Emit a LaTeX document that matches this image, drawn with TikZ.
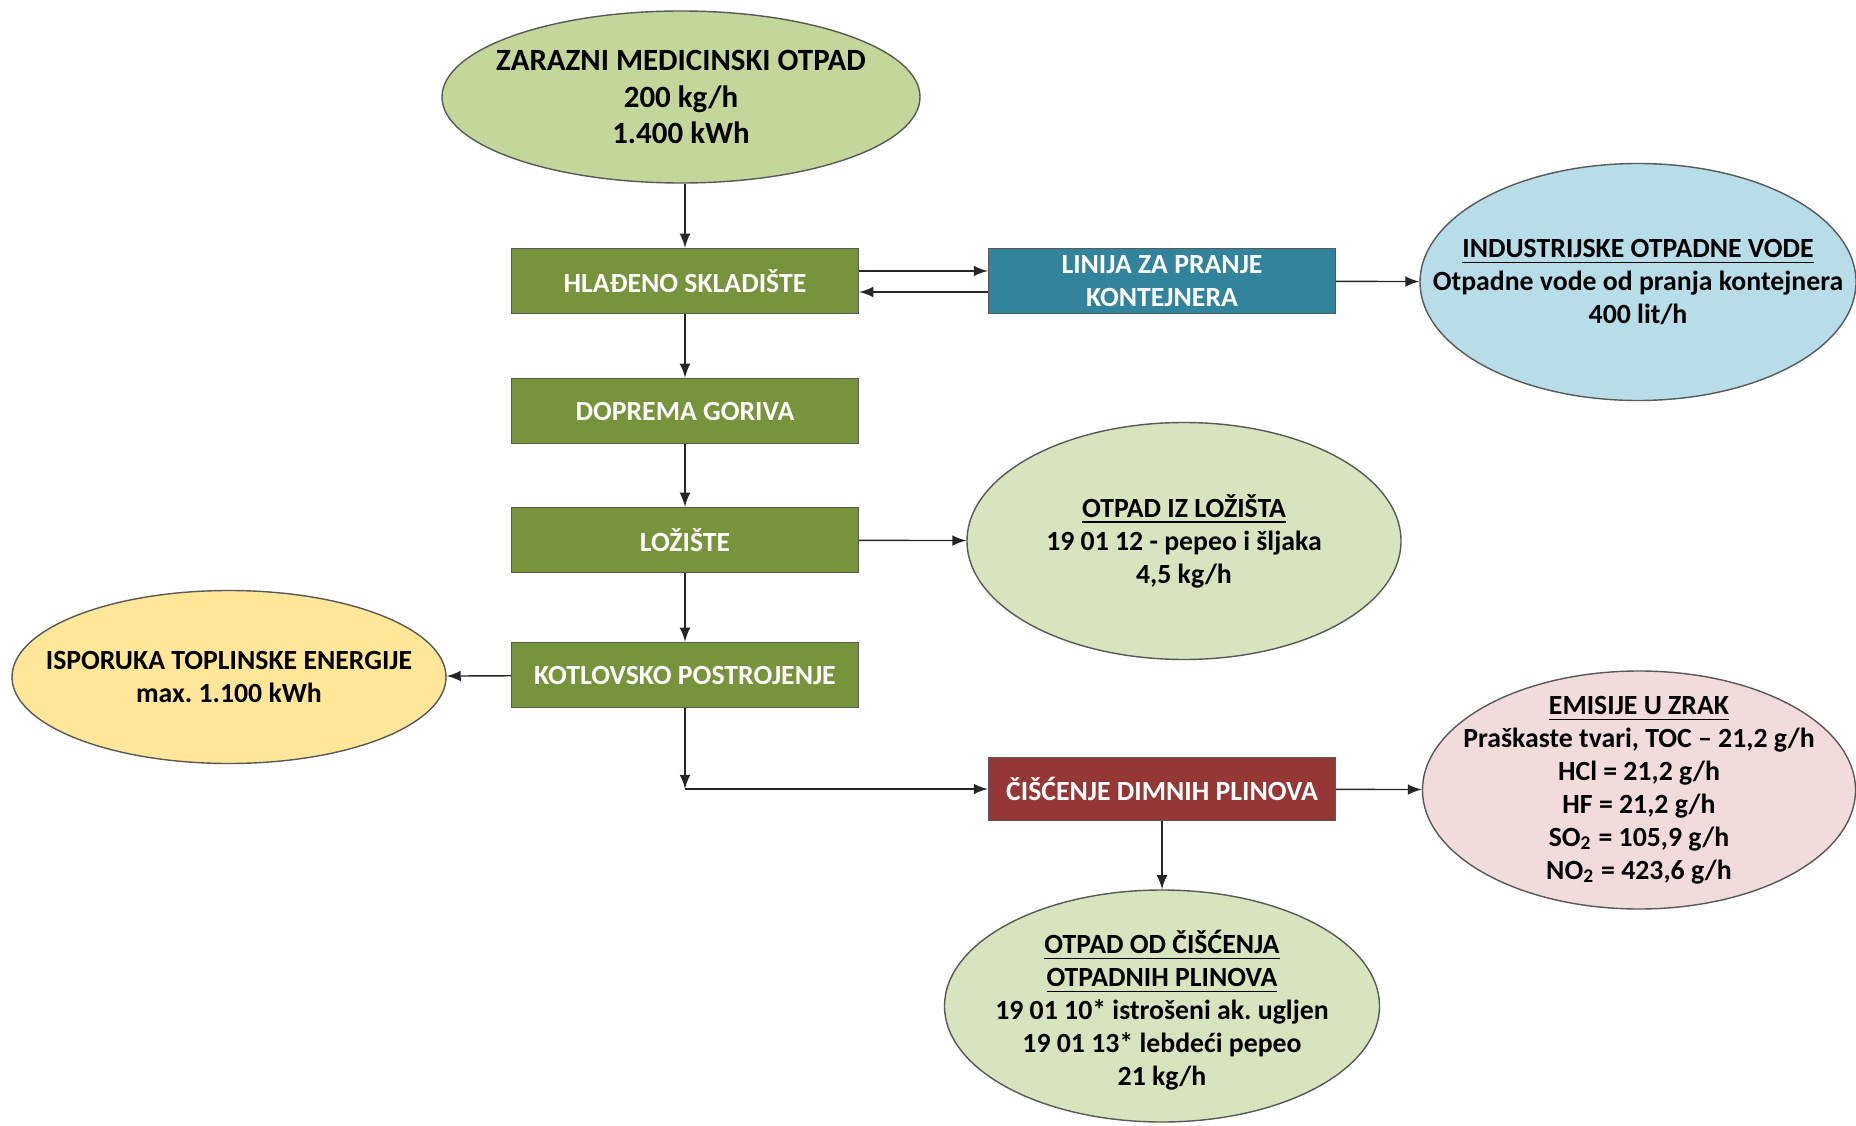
\documentclass[tikz,border=0pt]{standalone}
\usepackage{fontspec}
\setmainfont{Carlito}
\usepackage{tikz}
\usetikzlibrary{shapes.geometric}
\frenchspacing

\definecolor{olivebox}{HTML}{77933C}
\definecolor{tealbox}{HTML}{31849B}
\definecolor{redbox}{HTML}{953735}
\definecolor{greenblob}{HTML}{C4D79B}
\definecolor{palegreen}{HTML}{D7E4BD}
\definecolor{blueblob}{HTML}{B7DEE8}
\definecolor{yellowblob}{HTML}{FFE699}
\definecolor{pinkblob}{HTML}{F2DCDB}

\begin{document}
\begin{tikzpicture}[
    proc/.style={rectangle, draw=black!65, fill=olivebox, text=white, align=center,
        font=\fontsize{7.9}{9.4}\selectfont\bfseries,
        minimum width=3.47cm, minimum height=0.65cm, inner sep=0pt},
    blob/.style={ellipse, draw=black!65, inner sep=0pt},
    blobtext/.style={align=center, inner sep=0pt,
        font=\fontsize{7.9}{9.4}\selectfont\bfseries},
    flow/.style={-latex, draw=black!85, line width=0.4pt}]
                \useasboundingbox (0,0) rectangle (18.56,-11.26);
                % ellipses
                \node[blob, fill=greenblob, minimum width=4.78cm, minimum height=1.72cm] (waste) at (6.81,-0.97) {};
                \node[blob, fill=blueblob, minimum width=4.36cm, minimum height=2.37cm] (water) at (16.38,-2.82) {};
                \node[blob, fill=palegreen, minimum width=4.34cm, minimum height=2.37cm] (ash) at (11.84,-5.41) {};
                \node[blob, fill=yellowblob, minimum width=4.34cm, minimum height=1.73cm] (heat) at (2.29,-6.77) {};
                \node[blob, fill=pinkblob, minimum width=4.33cm, minimum height=2.38cm] (air) at (16.39,-7.90) {};
                \node[blob, fill=palegreen, minimum width=4.35cm, minimum height=2.32cm] (residue) at (11.62,-10.06) {};
                \node[blobtext, font=\fontsize{8.8}{10.4}\selectfont\bfseries] (waste-t) at (waste)
                    {ZARAZNI MEDICINSKI OTPAD\\200 kg/h\\1.400 kWh};
                \node[blobtext] (water-t) at (water)
                    {\underline{INDUSTRIJSKE OTPADNE VODE}\\Otpadne vode od pranja kontejnera\\400 lit/h};
                \node[blobtext] (ash-t) at (ash)
                    {\underline{OTPAD IZ LOŽIŠTA}\\19 01 12 - pepeo i šljaka\\4,5 kg/h};
                \node[blobtext] (heat-t) at (heat)
                    {ISPORUKA TOPLINSKE ENERGIJE\\max. 1.100 kWh};
                \node[blobtext] (air-t) at (air)
                    {\underline{EMISIJE U ZRAK}\\Praškaste tvari, TOC -- 21,2 g/h\\HCl = 21,2 g/h\\HF = 21,2 g/h\\
                     SO\textsubscript{2} = 105,9 g/h\\NO\textsubscript{2} = 423,6 g/h};
                \node[blobtext] (residue-t) at ([yshift=-0.04cm]residue)
                    {\underline{OTPAD OD ČIŠĆENJA}\\\underline{OTPADNIH PLINOVA}\\19 01 10* istrošeni ak. ugljen\\
                     19 01 13* lebdeći pepeo\\21 kg/h};
                % process boxes
                \node[proc] (store) at (6.85,-2.81) {HLAĐENO SKLADIŠTE};
                \node[proc, fill=tealbox] (wash) at (11.62,-2.81) {LINIJA ZA PRANJE\\KONTEJNERA};
                \node[proc] (feed) at (6.85,-4.11) {DOPREMA GORIVA};
                \node[proc] (furnace) at (6.85,-5.40) {LOŽIŠTE};
                \node[proc] (boiler) at (6.85,-6.75) {KOTLOVSKO POSTROJENJE};
                \node[proc, fill=redbox, minimum height=0.63cm] (clean) at (11.62,-7.89) {ČIŠĆENJE DIMNIH PLINOVA};
                \coordinate (knee) at (6.85,-7.89);
                % arrows
                \draw[flow] (store.north |- waste.south) -- (store);
                \draw[flow] ([yshift=0.10cm]store.east) -- ([yshift=0.10cm]wash.west);
                \draw[flow] ([yshift=-0.11cm]wash.west) -- ([yshift=-0.11cm]store.east);
                \draw[flow] (wash) -- (water);
                \draw[flow] (store) -- (feed);
                \draw[flow] (feed) -- (furnace);
                \draw[flow] (furnace) -- (boiler);
                \draw[flow] (furnace) -- (ash);
                \draw[flow] (boiler) -- (heat);
                \draw[flow] (boiler) -- (knee);
                \draw[flow] (knee) -- (clean);
                \draw[flow] (clean) -- (air);
                \draw[flow] (clean) -- (residue);
            \end{tikzpicture}
\end{document}
